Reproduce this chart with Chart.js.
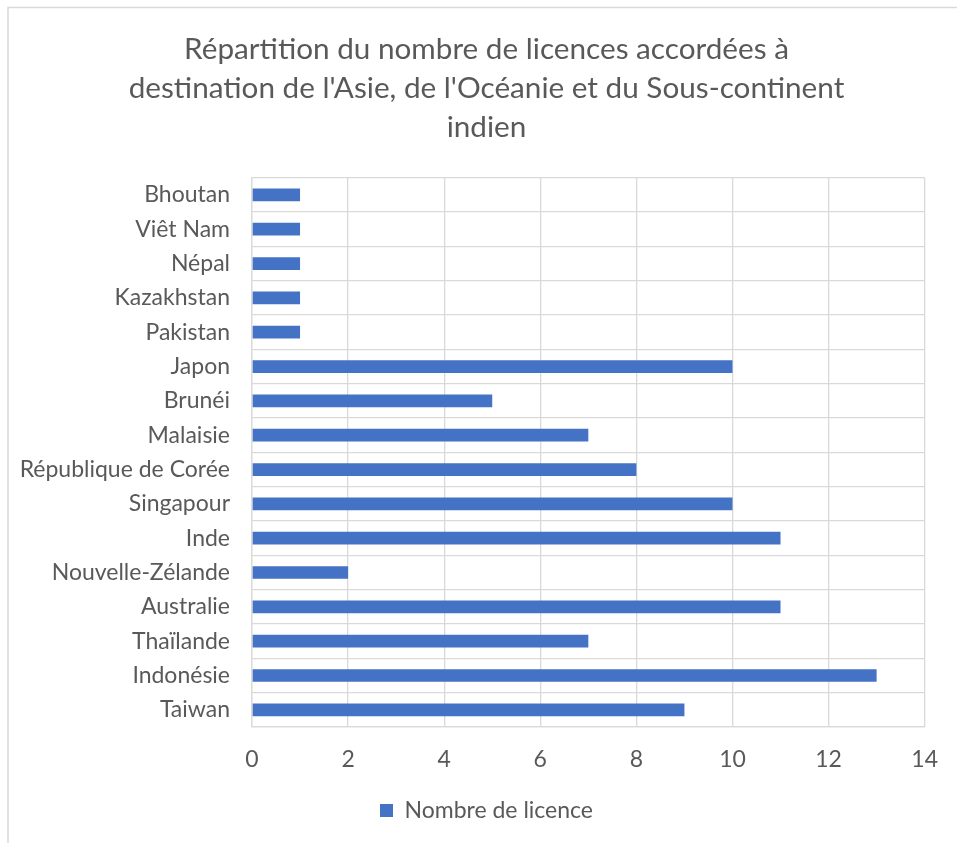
<!DOCTYPE html>
<html lang="fr">
<head>
    <meta charset="UTF-8">
    <title>Répartition du nombre de licences</title>
    <script src="https://cdn.jsdelivr.net/npm/chart.js@4/dist/chart.umd.min.js"></script>
    <style>
        html, body {
            margin: 0;
            padding: 0;
            background: #fff;
            overflow: hidden;
        }
        .chart-container {
            position: relative;
            width: 957px;
            height: 843px;
        }
    </style>
</head>
<body>
    <div class="chart-container">
        <canvas id="licenceChart"></canvas>
    </div>

    <script>
        // Data (top to bottom as in the chart)
        const pays = ['Bhoutan', 'Viêt Nam', 'Népal', 'Kazakhstan', 'Pakistan', 'Japon', 'Brunéi',
            'Malaisie', 'République de Corée', 'Singapour', 'Inde', 'Nouvelle-Zélande',
            'Australie', 'Thaïlande', 'Indonésie', 'Taiwan'];
        const nombreLicences = [1, 1, 1, 1, 1, 10, 5, 7, 8, 10, 11, 2, 11, 7, 13, 9];
        const titre = ['Répartition du nombre de licences accordées à',
            "destination de l'Asie, de l'Océanie et du Sous-continent",
            'indien'];
        const serieNom = 'Nombre de licence';

        const textColor = '#595959';
        const gridColor = '#d9d9d9';
        const fontFamily = 'Lato, "Open Sans", sans-serif';

        // light frame around the chart, like the Excel chart area
        const framePlugin = {
            id: 'frame',
            beforeDraw(chart) {
                const ctx = chart.ctx;
                ctx.save();
                ctx.strokeStyle = gridColor;
                ctx.lineWidth = 1.5;
                ctx.strokeRect(8, 7.5, chart.width + 20, chart.height + 20);
                ctx.restore();
            }
        };

        const ctx = document.getElementById('licenceChart').getContext('2d');
        new Chart(ctx, {
            type: 'bar',
            data: {
                labels: pays,
                datasets: [{
                    label: serieNom,
                    data: nombreLicences,
                    backgroundColor: '#4472C4',
                    borderWidth: 0,
                    barPercentage: 0.37,
                    categoryPercentage: 1
                }]
            },
            options: {
                indexAxis: 'y',
                responsive: true,
                maintainAspectRatio: false,
                animation: false,
                layout: {
                    padding: { left: 16, right: 0, top: 0, bottom: 11 }
                },
                plugins: {
                    title: {
                        display: true,
                        text: titre,
                        color: textColor,
                        font: { family: fontFamily, size: 29.7, weight: 'normal', lineHeight: 1.31 },
                        padding: { top: 30, bottom: 31 }
                    },
                    legend: {
                        position: 'bottom',
                        labels: {
                            color: textColor,
                            font: { family: fontFamily, size: 23 },
                            boxWidth: 13,
                            boxHeight: 13,
                            padding: 10
                        }
                    },
                    tooltip: { enabled: false }
                },
                scales: {
                    x: {
                        min: 0,
                        max: 14,
                        ticks: {
                            stepSize: 2,
                            color: textColor,
                            font: { family: fontFamily, size: 23 },
                            padding: 19
                        },
                        grid: { color: gridColor, lineWidth: 1.3, drawTicks: false },
                        border: { color: gridColor, width: 1.3 },
                        afterFit(scale) { scale.height = 62; }
                    },
                    y: {
                        ticks: {
                            color: textColor,
                            font: { family: fontFamily, size: 23 },
                            padding: 22,
                            autoSkip: false
                        },
                        grid: { color: gridColor, lineWidth: 1.3, offset: true, drawTicks: false },
                        border: { color: gridColor, width: 1.3 },
                        afterFit(scale) { scale.width = 236; }
                    },
                    // empty right-hand axis, only keeps the right margin of the plot area
                    marge: {
                        type: 'linear',
                        axis: 'y',
                        position: 'right',
                        ticks: { display: false },
                        grid: { display: false },
                        border: { display: false },
                        afterFit(scale) { scale.width = 31; }
                    }
                }
            },
            plugins: [framePlugin]
        });
    </script>
</body>
</html>
